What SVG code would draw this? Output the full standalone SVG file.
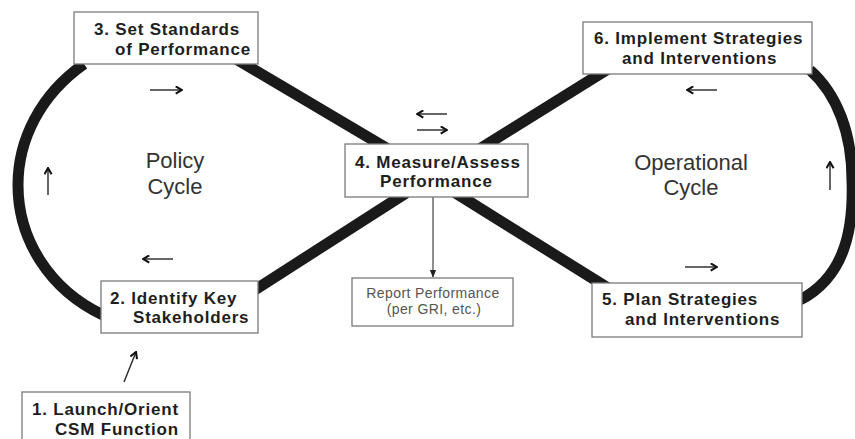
<svg xmlns="http://www.w3.org/2000/svg" width="855" height="439" viewBox="0 0 855 439">
<style>
.band{fill:none;stroke:#1a1a1a;stroke-width:11;stroke-linecap:butt}
.box{fill:#fff;stroke:#7a7a7a;stroke-width:1.3}
.lbl{font-family:"Liberation Sans",Arial,sans-serif;font-weight:bold;font-size:17px;letter-spacing:0.8px;fill:#1e1e1e}
.cyc{font-family:"Liberation Sans",Arial,sans-serif;font-size:22px;fill:#333;text-anchor:middle}
.rep{font-family:"Liberation Sans",Arial,sans-serif;font-size:14px;letter-spacing:0.4px;fill:#555;text-anchor:middle}
.flow{fill:none;stroke:#333;stroke-width:1.5;marker-end:url(#chev)}
</style>
<defs>
<marker id="chev" viewBox="0 0 10 10" refX="9" refY="5" markerWidth="9" markerHeight="9" markerUnits="userSpaceOnUse" orient="auto">
<path d="M2,1 L9,5 L2,9" fill="none" stroke="#111" stroke-width="2.3"/>
</marker>
<marker id="tri" viewBox="0 0 10 10" refX="9" refY="5" markerWidth="8" markerHeight="8" markerUnits="userSpaceOnUse" orient="auto">
<path d="M0,1 L10,5 L0,9 Z" fill="#222"/>
</marker>
</defs>
<g id="connectors">
<path class="band" d="M84,64 C40,95 18,140 18,185 C18,240 50,290 103,315"/>
<path class="band" d="M810,70 C838,95 852,135 852,180 C854,235 842,278 800,300"/>
<line class="band" x1="236" y1="59" x2="388" y2="149"/>
<line class="band" x1="478" y1="150" x2="608" y2="69"/>
<line class="band" x1="250" y1="293" x2="406" y2="193"/>
<line class="band" x1="454" y1="192" x2="608" y2="288"/>
<line x1="433" y1="197" x2="433" y2="277" stroke="#444" stroke-width="1.2" marker-end="url(#tri)"/>
<line class="flow" x1="124" y1="382" x2="136" y2="352"/>
<line class="flow" x1="150" y1="90" x2="182" y2="90"/>
<line class="flow" x1="48" y1="195" x2="48" y2="168" stroke="#777"/>
<line class="flow" x1="173" y1="259" x2="143" y2="259"/>
<line class="flow" x1="830" y1="190" x2="830" y2="162" stroke="#666"/>
<line class="flow" x1="717" y1="90" x2="687" y2="90"/>
<line class="flow" x1="685" y1="267" x2="717" y2="267"/>
<line class="flow" x1="447" y1="114" x2="417" y2="114"/>
<line class="flow" x1="417" y1="130" x2="447" y2="130"/>
</g>
<g id="policy-cycle">
<text class="cyc" x="175" y="168">Policy</text>
<text class="cyc" x="175" y="194">Cycle</text>
</g>
<g id="operational-cycle">
<text class="cyc" x="691" y="170">Operational</text>
<text class="cyc" x="691" y="195">Cycle</text>
</g>
<g id="node1">
<rect class="box" x="22" y="392" width="168" height="60"/>
<text class="lbl" x="32" y="415">1. Launch/Orient</text>
<text class="lbl" x="55" y="435">CSM Function</text>
</g>
<g id="node2">
<rect class="box" x="101" y="281" width="157" height="52"/>
<text class="lbl" x="110" y="304">2. Identify Key</text>
<text class="lbl" x="133" y="323">Stakeholders</text>
</g>
<g id="node3">
<rect class="box" x="74" y="12" width="184" height="52"/>
<text class="lbl" x="94" y="35">3. Set Standards</text>
<text class="lbl" x="115" y="55">of Performance</text>
</g>
<g id="node4">
<rect class="box" x="345" y="144" width="183" height="53"/>
<text class="lbl" x="355" y="168">4. Measure/Assess</text>
<text class="lbl" x="380" y="187">Performance</text>
</g>
<g id="report">
<rect class="box" x="352" y="278" width="161" height="48"/>
<text class="rep" x="433" y="298">Report Performance</text>
<text class="rep" x="434" y="314">(per GRI, etc.)</text>
</g>
<g id="node5">
<rect class="box" x="592" y="283" width="210" height="54"/>
<text class="lbl" x="602" y="305">5. Plan Strategies</text>
<text class="lbl" x="625" y="325">and Interventions</text>
</g>
<g id="node6">
<rect class="box" x="583" y="22" width="229" height="52"/>
<text class="lbl" x="594" y="44">6. Implement Strategies</text>
<text class="lbl" x="622" y="64">and Interventions</text>
</g>
</svg>
